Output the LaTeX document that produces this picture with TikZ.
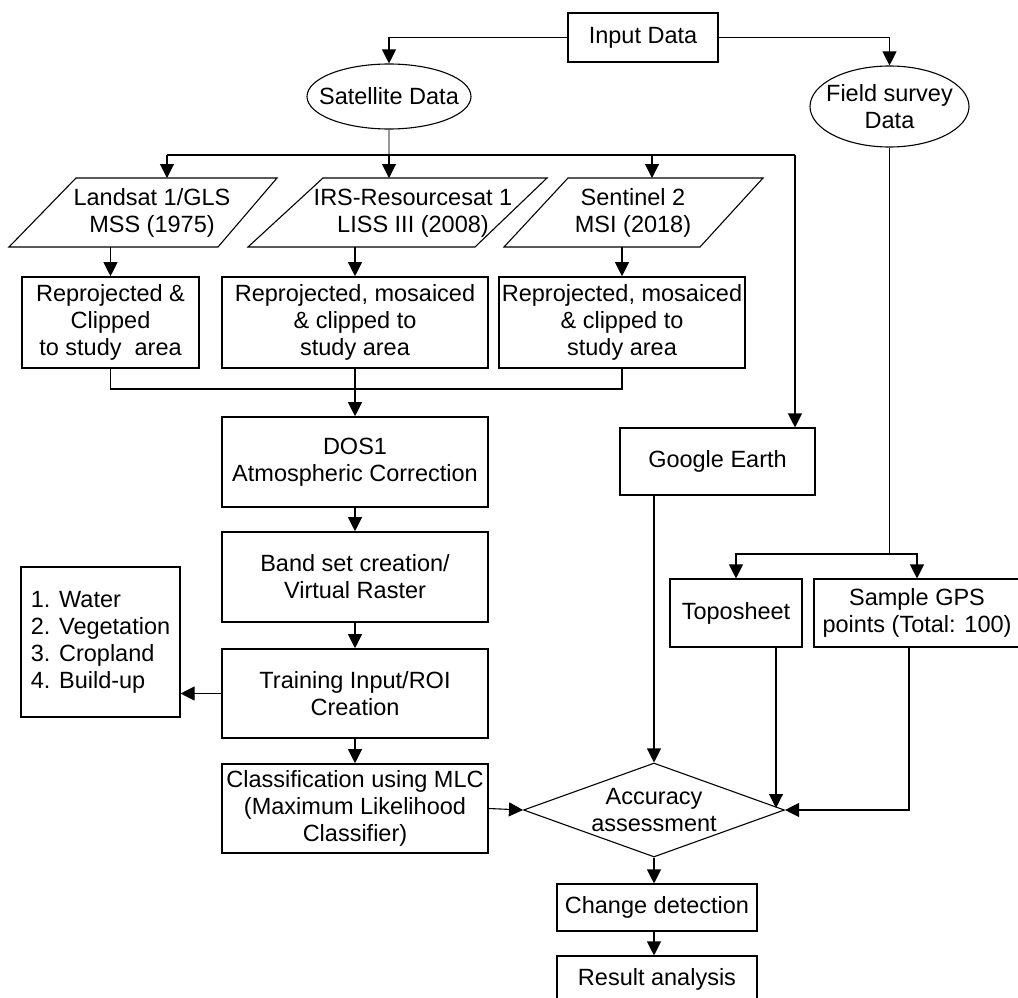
\documentclass[tikz,border=0pt]{standalone}
\usepackage{fontspec}
\setmainfont{Liberation Sans}
\usepackage{tikz}
\usetikzlibrary{arrows.meta,shapes,positioning}

\newcommand{\flowfont}{\fontsize{23.5}{27}\selectfont}

\tikzset{
  ln/.style={line width=1.1pt},
  arr/.style={ln, -{Triangle[length=14pt,width=14pt]}},
  box/.style={draw, line width=1.6pt, align=center, inner sep=0pt, font=\flowfont},
  thinbox/.style={box, line width=1.1pt},
  ell/.style={draw, ellipse, line width=1.1pt, inner sep=0pt},
  txt/.style={align=center, inner sep=0pt, font=\flowfont},
}

\begin{document}
\begin{tikzpicture}[x=1pt,y=1pt,yscale=-1,xscale=1]
\useasboundingbox (0,0) rectangle (1018,998);

% input and the two sources
\node[thinbox, minimum width=150pt, minimum height=49pt] (input) at (643,37.5) {Input Data};
\node[ell, minimum width=164pt, minimum height=65pt,
      label={[txt,name=satT]center:Satellite Data}] (sat) at (389,96.5) {};
\node[ell, minimum width=159pt, minimum height=81pt,
      label={[txt,name=fieldT]center:{Field survey\\Data}}] (field) at (889.5,106.5) {};

% satellite images (parallelograms)
\draw[ln] (76,178) -- (277,178) -- (218,247) -- (9,247) -- cycle;
\node[txt] (lan) at (152,213) {Landsat 1/GLS\\MSS (1975)};
\draw[ln] (323,178) -- (547,178) -- (475,247) -- (248,247) -- cycle;
\node[txt] (irs) at (413,213) {IRS-Resourcesat 1\\LISS III (2008)};
\draw[ln] (568,178) -- (763,178) -- (700,247) -- (504,247) -- cycle;
\node[txt] (sen) at (633,213) {Sentinel 2\\MSI (2018)};

\coordinate (barL) at (167,155);
\coordinate (barR) at (795,155);
\coordinate (lanN) at (167,178);
\coordinate (irsN) at (389,178);
\coordinate (senN) at (652,178);
\coordinate (lanS) at (110.5,247);
\coordinate (irsS) at (355,247);
\coordinate (senS) at (622,247);

% pre-processing
\node[box, minimum width=177pt, minimum height=91pt] (rp1) at (110.5,322.5) {Reprojected \&\\Clipped\\to study\ \ area};
\node[box, minimum width=266pt, minimum height=91pt] (rp2) at (355,322.5) {Reprojected, mosaiced\\\& clipped to\\study area};
\node[box, minimum width=246pt, minimum height=91pt] (rp3) at (622,322.5) {Reprojected, mosaiced\\\& clipped to\\study area};
\coordinate (mrg) at (355,389);

\node[box, minimum width=266pt, minimum height=90pt] (dos) at (355,462) {DOS1\\Atmospheric Correction};
\node[box, minimum width=266pt, minimum height=90pt] (band) at (355,577) {Band set creation/\\Virtual Raster};
\node[box, minimum width=266pt, minimum height=89pt] (train) at (355,693.5) {Training Input/ROI\\Creation};
\node[box, minimum width=266pt, minimum height=89pt] (cls) at (355,808.5) {Classification using MLC\\(Maximum Likelihood\\Classifier)};
\node[thinbox, minimum width=159pt, minimum height=150pt, align=left] (classes) at (100.5,642) {1. Water\\2. Vegetation\\3. Cropland\\4. Build-up};

% reference data
\node[thinbox, minimum width=195pt, minimum height=67pt] (ge) at (717.5,461.5) {Google Earth};
\node[thinbox, minimum width=132pt, minimum height=68pt] (topo) at (736,613) {Toposheet};
\node[thinbox, minimum width=206pt, minimum height=68pt] (gps) at (917,613) {Sample GPS\\points (Total: 100)};
\coordinate (fbar) at (889.5,554);
\coordinate (geOut) at (654,495);
\coordinate (topoOut) at (776,647);
\coordinate (gpsOut) at (909,647);

% accuracy and results
\node[draw, diamond, line width=1.1pt, inner sep=0pt, minimum width=261pt, minimum height=94pt,
      label={[txt,name=diaT]center:{Accuracy\\assessment}}] (dia) at (654,810) {};
\node[thinbox, minimum width=200pt, minimum height=47pt] (chg) at (657,907.5) {Change detection};
\node[thinbox, minimum width=200pt, minimum height=47pt] (res) at (657,979.5) {Result analysis};

% connectors
\draw[arr] (input.west) -| (sat.north);
\draw[arr] (input.east) -| (field.north);
\draw[ln, black!40] (sat.south) -- (sat.south |- barL);
\draw[ln] (barL) -- (barR);
\draw[arr] (barL) -- (lanN);
\draw[arr] (sat.south |- barL) -- (irsN);
\draw[arr] (senN |- barL) -- (senN);
\draw[arr] (barR) -- (barR |- ge.north);

\draw[arr] (lanS) -- (rp1.north);
\draw[arr] (irsS) -- (rp2.north);
\draw[arr] (senS) -- (rp3.north);
\draw[ln] (rp1.south) |- (rp3.south |- mrg) -- (rp3.south);
\draw[arr] (rp2.south) -- (dos.north);
\draw[arr] (dos) -- (band);
\draw[arr] (band) -- (train);
\draw[arr] (train) -- (cls);
\draw[arr] (train.west) -- (train.west -| classes.east);
\draw[arr] (cls.east) -- (dia.west);

\draw[ln] (field.south) -- (fbar);
\draw[arr] (fbar) -| (topo.north);
\draw[arr] (fbar) -| (gps.north);
\draw[arr] (geOut) -- (dia.north);
\draw[arr, shorten >=2pt] (topoOut) -- (topoOut |- dia.east);
\draw[arr] (gpsOut) |- (dia.east);

\draw[arr] (dia.south) -- (dia.south |- chg.north);
\draw[arr] (dia.south |- chg.south) -- (dia.south |- res.north);

\end{tikzpicture}
\end{document}
